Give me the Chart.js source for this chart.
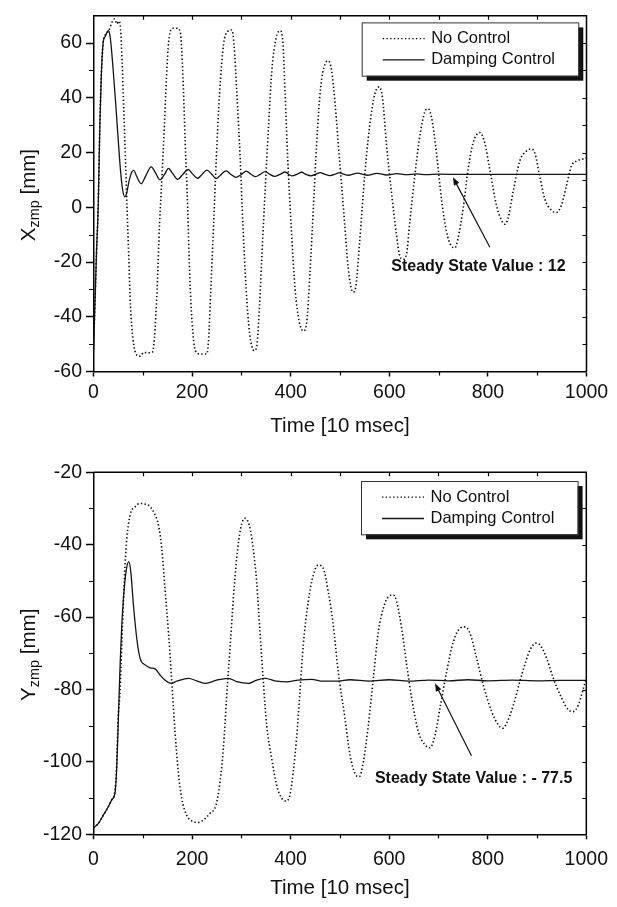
<!DOCTYPE html>
<html>
<head>
<meta charset="utf-8">
<script src="https://cdn.jsdelivr.net/npm/chart.js@4.4.1/dist/chart.umd.min.js"></script>
<style>
  html, body { margin: 0; padding: 0; background: #fff; }
  body { width: 617px; height: 907px; position: relative; overflow: hidden; }
  canvas { position: absolute; left: 0; }
  #c1 { top: 0; }
  #c2 { top: 445px; }
</style>
</head>
<body>
<canvas id="c1" width="617" height="445"></canvas>
<canvas id="c2" width="617" height="462"></canvas>
<script>
const FONT = "'Liberation Sans', Arial, Helvetica, sans-serif";
const seriesLabels = ['No Control', 'Damping Control'];

// X-axis ticks (time, 10 msec units)
const timeLabels = [0, 200, 400, 600, 800, 1000];

// ---- top panel : X_zmp [mm]
const topYLabels = [-60, -40, -20, 0, 20, 40, 60];
const topNoCtrlT = [0, 3, 6, 9.5, 13, 16, 19.5, 24, 31, 38, 42.5, 48, 51, 55, 58, 61.4, 64.8, 68, 71.5, 75, 80, 88, 95, 102, 110, 119,
  123.5, 129, 134, 139, 143.7, 148, 152.5, 161, 170.7, 176, 181.5, 186, 191, 195, 200, 206.5, 216.6, 230,
  233.5, 238, 243.6, 249, 255.7, 263.8, 272, 280.7, 285, 290.8, 297.6, 303, 309.7, 316.5, 326, 331.3,
  336.7, 341.4, 348, 355, 361.7, 370.4, 378.5, 384, 388.7, 394, 400.8, 409, 417.6, 425.8, 432.5,
  439, 446, 452.7, 460.8, 469.6, 476.4, 483, 490, 497, 509.7, 516.5, 526.6, 532, 540, 550, 560,
  570.6, 579.4, 586, 594, 604.4, 614.5, 621.3, 628, 634.8, 641.6, 651.7, 661.8, 672, 678.7, 685.5,
  695.6, 705.8, 716, 726, 733, 739.6, 749.7, 759.9, 770, 783.5, 793.7, 803.8, 817.3, 827.5, 834,
  841, 851, 864.6, 878, 887, 895, 905, 915.3, 928.9, 939, 949, 959.3, 969.4, 979.6, 990, 1000];
const topNoCtrlV = [-52, -35, -17, 0, 31, 49, 60, 63, 64.5, 67.8, 68.8, 67, 68, 65, 53.5, 35.5, 17.6, 0, -18, -36, -48, -54, -54.4, -53, -53.2, -53,
  -48, -30, -6, 11.6, 29.5, 47.5, 60.6, 65.4, 65.4, 64, 47.5, 23.6, 0, -24, -42, -52.4, -53.6, -53.6,
  -48, -30, -6.3, 17.6, 41.5, 59.5, 64.2, 64.8, 59.5, 41.5, 17.6, -6.3, -30, -45.8, -52.4, -50.6,
  -36.2, -18.3, 5.6, 29.5, 49.9, 61.8, 64.5, 60.6, 41.5, 17.6, -6.3, -30, -42, -45.2, -42,
  -24.3, 0, 23.6, 43.9, 52.3, 53.5, 49.9, 37.9, 22, -6.5, -22, -31, -29, -12.4, 11.5, 29.5,
  41.4, 44, 40.2, 23.5, 5.5, -10, -17.8, -19, -17.2, -5.3, 11.5, 25.9, 34.8, 36, 33,
  19.9, 3.1, -8.9, -14.2, -14.8, -11.2, -0.5, 13.9, 23.5, 27.3, 23.5, 13.9, 0.7, -4.7, -6.2,
  -4, 5.5, 16.9, 20.5, 21.3, 19.9, 11.5, 3.1, -1.1, -1.9, 0.7, 7.9, 15.1, 16.9, 17.5, 18];
const topDampT = [0, 3, 6, 9.5, 13, 16, 19.5, 24, 30, 34, 40, 45, 50, 55, 59, 63.5, 67, 72, 78, 82, 87, 97, 106, 117, 126, 135,
  144, 152, 161, 171, 181, 192, 201, 211, 220, 230, 240, 249, 259, 269, 279, 289, 300, 310, 320, 329,
  338, 348, 358, 367, 378, 389, 396, 402, 412, 422, 431, 441, 450, 460, 470, 480, 489, 497, 518, 535,
  555, 575, 595, 615, 635, 655, 675, 700, 750, 800, 900, 1000];
const topDampV = [-52, -35, -17, 0, 31, 49, 60, 62.5, 64.5, 62, 50, 38, 25, 13, 6.5, 3.8, 5, 9.5, 13, 13.5, 11.5, 8.6, 11.5, 14.8, 12.5, 10,
  12, 14.2, 12.2, 10.2, 12, 13.8, 12.2, 10.6, 12, 13.6, 12, 10.5, 12, 13.3, 12, 10.9, 12, 13.2, 12, 11.2,
  12, 13, 12, 11.3, 12, 12.9, 12, 11.5, 12, 12.8, 12, 11.5, 12, 12.7, 12, 11.6, 12, 12.6, 11.7, 12.5,
  11.7, 12.4, 11.8, 12.3, 11.9, 12.2, 11.9, 12.1, 12, 12, 12, 12];

// ---- bottom panel : Y_zmp [mm]
const botYLabels = [-120, -100, -80, -60, -40, -20];
const botNoCtrlT = [0, 10, 20, 30, 37, 43, 47, 50, 54, 57.5, 61, 64, 67.6, 74.3, 84.5, 94.6, 104.7, 115, 125, 131.8, 138.5,
  145, 152, 158.8, 165.5, 172, 179, 189, 202.7, 212.8, 223, 236.5, 248.6, 256.8, 263.5, 270, 277,
  283.8, 290.5, 298.6, 307.4, 316, 324, 331, 337.8, 344.6, 351.4, 361.5, 371.6, 381.8, 392, 398.6,
  405.4, 412, 419, 425.7, 435.8, 446, 456, 466, 476.4, 486.5, 496.6, 510.3, 520.5, 530.6, 539.4,
  547.6, 557.7, 567.8, 578, 588, 598.3, 608.4, 615.2, 625.3, 635.5, 645.6, 659.2, 672.7, 682.8, 693,
  703, 716.6, 730.2, 743.7, 753.9, 764, 777.5, 791, 808, 821.5, 830.3, 838.4, 852, 868.8, 885.8,
  898, 906, 919.6, 933, 950, 963.5, 973.7, 983.8, 994, 1000];
const botNoCtrlV = [-118.2, -117, -114.7, -112.4, -110.5, -108.5, -101, -88, -80, -67, -54.8, -45.6, -38.3, -31.8, -29.5, -28.6, -28.8, -29.5, -31.8, -34.6, -41,
  -52, -64, -77.8, -91.7, -102.7, -110, -114.7, -116.5, -116.7, -116, -114.2, -111.9, -105.5, -96.3, -82.4, -68.6,
  -54.8, -43.8, -35.5, -32.7, -34.6, -41, -50.2, -64, -77.8, -89.8, -99, -106.4, -110, -110.8, -109.1,
  -102.7, -93.5, -80.6, -67.7, -55.7, -48.4, -45.6, -46.5, -53, -62.2, -75.1, -88, -98.1, -103.2, -104.1,
  -100, -89.8, -76.9, -64, -57.6, -54.4, -53.9, -55.7, -63.1, -73.2, -82.4, -91.7, -95.3, -96.1, -92.6,
  -85.2, -75.1, -66.8, -63.1, -62.7, -64.5, -71.4, -78.8, -86.1, -89.8, -90.7, -89.3, -84.3, -76, -69.1,
  -67.2, -67.7, -71.4, -76.9, -82.4, -85.6, -86.1, -84.3, -79.7, -77];
const botDampT = [0, 10, 20, 30, 37, 44, 47.3, 50.7, 54, 57.4, 60.8, 66, 71.6, 75.7, 81, 87.8, 94.6, 104.7, 115, 125, 135, 145,
  157.4, 169, 192.6, 209.5, 228, 250, 273.6, 290.5, 314, 331, 348, 371.6, 392, 415.5, 442.6, 466, 496.6,
  520, 560, 600, 640, 680, 720, 760, 800, 850, 900, 950, 1000];
const botDampV = [-118.2, -117, -114.7, -112.4, -110.5, -108.2, -101, -87, -73.2, -62.2, -54.8, -47.5, -44.7, -47.5, -56.6, -65.9, -71.4, -73.2, -74, -74.3, -76, -77.4,
  -78.3, -77.7, -76.9, -77.6, -78.3, -77.4, -76.9, -77.8, -78.3, -77.4, -76.9, -77.7, -77.9, -77.4, -77.2, -77.7, -77.7,
  -77.3, -77.7, -77.3, -77.7, -77.4, -77.6, -77.3, -77.6, -77.4, -77.6, -77.5, -77.5];

function toPoints(t, v) {
  return t.map((x, i) => ({ x: x, y: v[i] }));
}

// outer frame: top/right border with inward ticks, short minor ticks outside
const framePlugin = {
  id: 'frame',
  afterDraw(chart) {
    const { ctx, chartArea: a, scales: { x, y } } = chart;
    ctx.save();
    ctx.strokeStyle = '#000';
    ctx.lineWidth = 1.5;
    ctx.beginPath();
    ctx.moveTo(a.left, a.top);
    ctx.lineTo(a.right, a.top);
    ctx.lineTo(a.right, a.bottom);
    ctx.stroke();
    ctx.lineWidth = 1.2;
    ctx.beginPath();
    for (let v = x.min + 100; v < x.max; v += 100) {
      const px = Math.round(x.getPixelForValue(v)) + 0.5;
      ctx.moveTo(px, a.top); ctx.lineTo(px, a.top + 4);
      if (v % 200 !== 0) { ctx.moveTo(px, a.bottom); ctx.lineTo(px, a.bottom + 4); }
    }
    for (let v = y.min + 10; v < y.max; v += 10) {
      const py = Math.round(y.getPixelForValue(v)) + 0.5;
      ctx.moveTo(a.right, py); ctx.lineTo(a.right - 4, py);
      if (v % 20 !== 0) { ctx.moveTo(a.left, py); ctx.lineTo(a.left - 4.5, py); }
    }
    ctx.stroke();
    ctx.restore();
  }
};

// boxed legend with a solid drop shadow
const legendPlugin = {
  id: 'boxLegend',
  afterDatasetsDraw(chart, args, opts) {
    const { ctx, chartArea: a } = chart;
    const w = 216.6, h = 53.3;
    const left = a.right - opts.dx - w, top = a.top + opts.dy;
    ctx.save();
    ctx.fillStyle = '#111';
    ctx.fillRect(left + 5, top + 5, w, h);
    ctx.fillStyle = '#fff';
    ctx.fillRect(left, top, w, h);
    ctx.strokeStyle = '#333';
    ctx.lineWidth = 1;
    ctx.strokeRect(left + 0.5, top + 0.5, w, h);
    ctx.font = '16.5px ' + FONT;
    ctx.textBaseline = 'middle';
    ctx.fillStyle = '#111';
    chart.data.datasets.forEach((ds, i) => {
      const ly = top + (i === 0 ? 16.2 : 37.5);
      ctx.strokeStyle = ds.borderColor;
      ctx.lineWidth = i === 0 ? 1.2 : ds.borderWidth;
      ctx.setLineDash(ds.borderDash || []);
      ctx.beginPath();
      ctx.moveTo(left + 21, ly);
      ctx.lineTo(left + 63, ly);
      ctx.stroke();
      ctx.setLineDash([]);
      ctx.fillText(ds.label, left + 69.5, ly);
    });
    ctx.restore();
  }
};

// arrow pointing at the steady-state value, with bold note
const notePlugin = {
  id: 'note',
  afterDatasetsDraw(chart, args, n) {
    const { ctx, scales: { x, y } } = chart;
    const x0 = x.getPixelForValue(n.tailX), y0 = y.getPixelForValue(n.tailY);
    const x1 = x.getPixelForValue(n.headX), y1 = y.getPixelForValue(n.headY);
    const ang = Math.atan2(y1 - y0, x1 - x0);
    ctx.save();
    ctx.strokeStyle = '#111';
    ctx.fillStyle = '#111';
    ctx.lineWidth = 1.2;
    ctx.beginPath();
    ctx.moveTo(x0, y0);
    ctx.lineTo(x1 - 5 * Math.cos(ang), y1 - 5 * Math.sin(ang));
    ctx.stroke();
    ctx.beginPath();
    ctx.moveTo(x1, y1);
    ctx.lineTo(x1 - 8 * Math.cos(ang) + 3 * Math.sin(ang), y1 - 8 * Math.sin(ang) - 3 * Math.cos(ang));
    ctx.lineTo(x1 - 8 * Math.cos(ang) - 3 * Math.sin(ang), y1 - 8 * Math.sin(ang) + 3 * Math.cos(ang));
    ctx.closePath();
    ctx.fill();
    ctx.font = 'bold 16px ' + FONT;
    ctx.textBaseline = 'middle';
    ctx.fillText(n.text, x.getPixelForValue(n.textX), y.getPixelForValue(n.textY));
    ctx.restore();
  }
};

// rotated y title with subscript
const yTitlePlugin = {
  id: 'ytitle',
  afterDraw(chart, args, o) {
    const { ctx, chartArea: a } = chart;
    const big = '20.5px ' + FONT, small = '14.5px ' + FONT;
    ctx.save();
    ctx.font = big;
    const w1 = ctx.measureText(o.main).width, w3 = ctx.measureText(o.tail).width;
    ctx.font = small;
    const w2 = ctx.measureText(o.sub).width;
    const total = w1 + w2 + w3;
    ctx.translate(35, (a.top + a.bottom) / 2 + 1.5);
    ctx.rotate(-Math.PI / 2);
    ctx.fillStyle = '#111';
    ctx.textBaseline = 'alphabetic';
    let sx = -total / 2;
    ctx.font = big; ctx.fillText(o.main, sx, 0); sx += w1;
    ctx.font = small; ctx.fillText(o.sub, sx, 4); sx += w2;
    ctx.font = big; ctx.fillText(o.tail, sx, 0);
    ctx.restore();
  }
};

function makePanel(id, p) {
  return new Chart(document.getElementById(id), {
    type: 'line',
    data: {
      datasets: [
        {
          label: seriesLabels[0],
          data: toPoints(p.t1, p.v1),
          borderColor: '#0d0d0d',
          borderWidth: 1.6,
          borderDash: [1.4, 2.3],
          pointRadius: 0,
          cubicInterpolationMode: 'monotone',
          fill: false
        },
        {
          label: seriesLabels[1],
          data: toPoints(p.t2, p.v2),
          borderColor: '#141414',
          borderWidth: 1.3,
          pointRadius: 0,
          cubicInterpolationMode: 'monotone',
          fill: false
        }
      ]
    },
    options: {
      responsive: false,
      animation: false,
      devicePixelRatio: 1,
      layout: { padding: { top: p.padTop, right: 30.5, left: 0, bottom: 0 } },
      plugins: {
        legend: { display: false },
        tooltip: { enabled: false },
        boxLegend: p.legend,
        note: p.note,
        ytitle: p.ytitle
      },
      scales: {
        x: {
          type: 'linear',
          min: 0,
          max: 1000,
          afterFit: s => { s.height = p.xHeight; },
          border: { display: true, color: '#000', width: 1.5 },
          grid: { drawOnChartArea: false, drawTicks: true, tickLength: 5, tickColor: '#000', tickWidth: 1.5 },
          ticks: {
            stepSize: 100,
            autoSkip: false,
            maxRotation: 0,
            padding: p.xPad,
            color: '#111',
            font: { family: FONT, size: 19.5 },
            callback: v => timeLabels.includes(v) ? String(v) : null
          },
          title: {
            display: true,
            text: 'Time [10 msec]',
            color: '#111',
            font: { family: FONT, size: 20.5 },
            padding: { top: 0, bottom: 6.4 }
          }
        },
        y: {
          type: 'linear',
          min: p.yMin,
          max: p.yMax,
          afterFit: s => { s.width = 93.5; },
          border: { display: true, color: '#000', width: 1.5 },
          grid: { drawOnChartArea: false, drawTicks: true, tickLength: 7.5, tickColor: '#000', tickWidth: 1.5 },
          ticks: {
            stepSize: 10,
            autoSkip: false,
            padding: 4,
            color: '#111',
            font: { family: FONT, size: 19.5 },
            callback: v => p.yLabels.includes(v) ? String(v) : null
          }
        }
      }
    },
    plugins: [framePlugin, legendPlugin, notePlugin, yTitlePlugin]
  });
}

makePanel('c1', {
  t1: topNoCtrlT, v1: topNoCtrlV, t2: topDampT, v2: topDampV,
  yMin: -60, yMax: 70, yLabels: topYLabels,
  padTop: 8.3, xHeight: 73.5, xPad: 4.1,
  legend: { dx: 8.2, dy: 6.7 },
  note: { text: 'Steady State Value : 12', textX: 604, textY: -21.8, tailX: 804, tailY: -14.6, headX: 729, headY: 11 },
  ytitle: { main: 'X', sub: 'zmp', tail: ' [mm]' }
});

makePanel('c2', {
  t1: botNoCtrlT, v1: botNoCtrlV, t2: botDampT, v2: botDampV,
  yMin: -120, yMax: -20, yLabels: botYLabels,
  padTop: 27.3, xHeight: 72.7, xPad: 9,
  legend: { dx: 8.7, dy: 8.7 },
  note: { text: 'Steady State Value : - 77.5', textX: 571, textY: -104.5, tailX: 767, tailY: -98.3, headX: 693, headY: -78.3 },
  ytitle: { main: 'Y', sub: 'zmp', tail: ' [mm]' }
});
</script>
</body>
</html>
